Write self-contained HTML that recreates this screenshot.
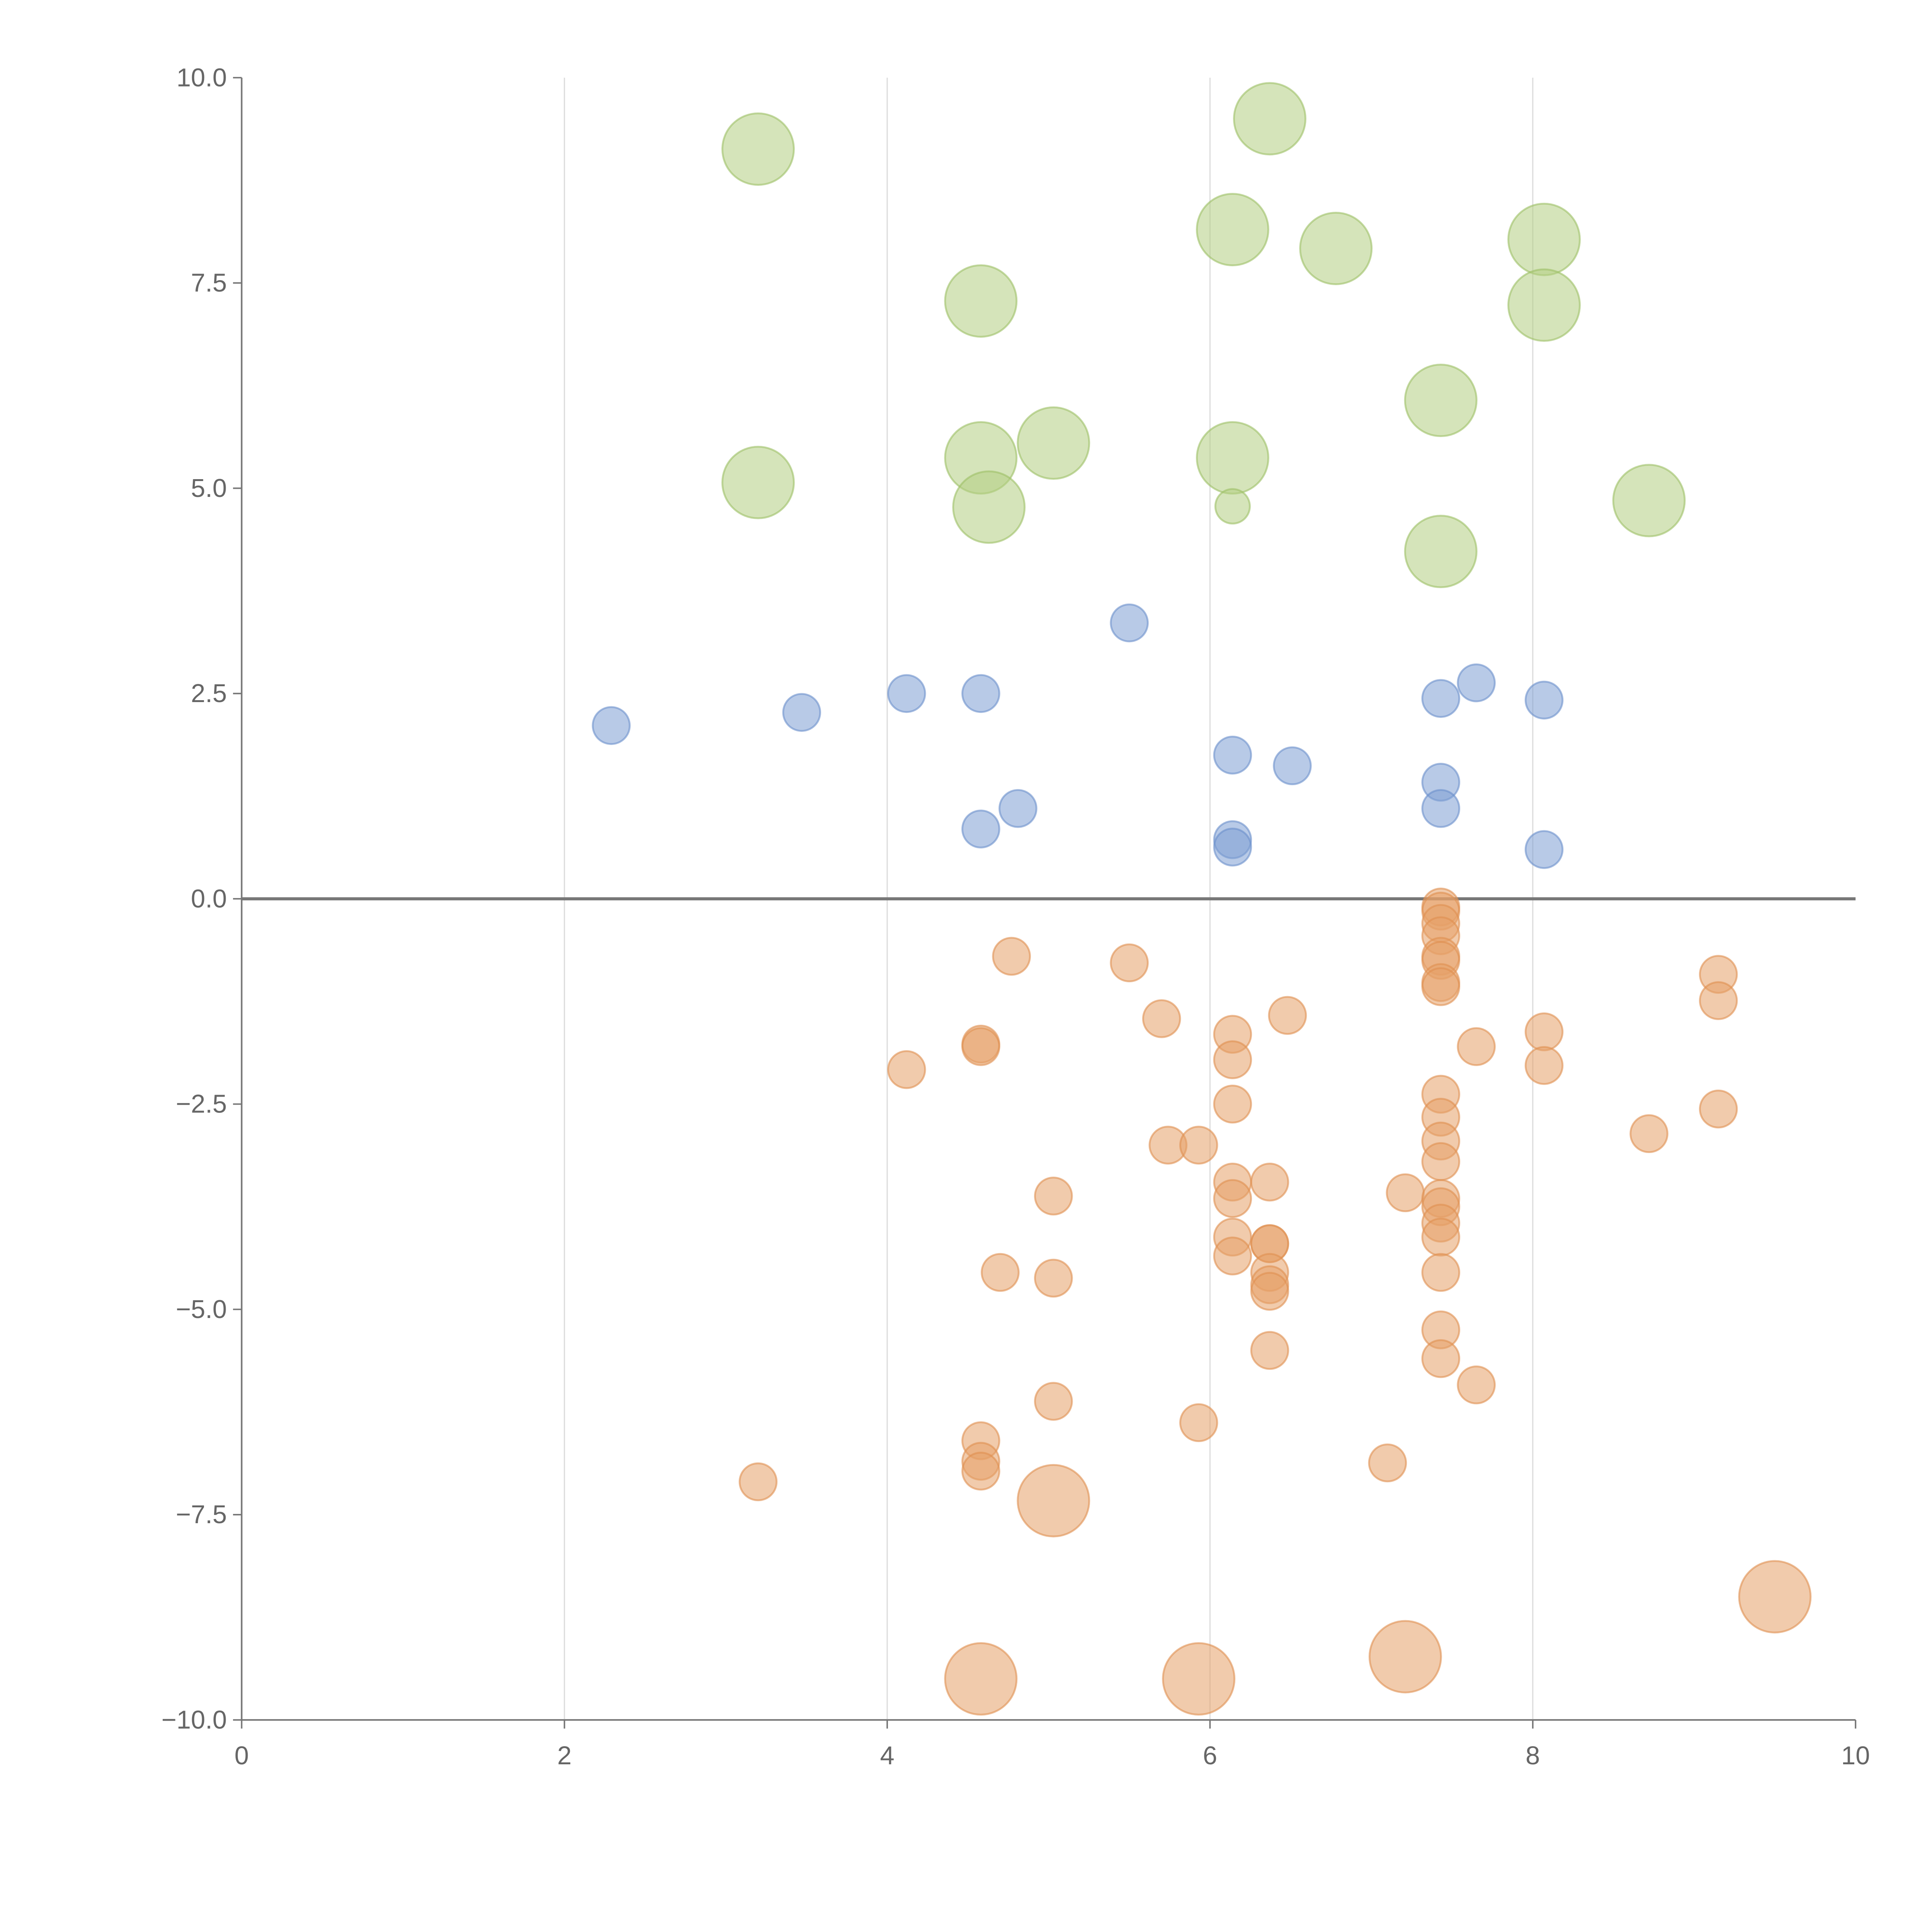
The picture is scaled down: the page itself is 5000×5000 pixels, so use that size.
<!DOCTYPE html>
<html><head><meta charset="utf-8"><style>html,body{margin:0;padding:0;background:#fff}svg{display:block}</style></head>
<body>
<svg id="chart" width="5000" height="5000" viewBox="0 0 1567 1567" xmlns="http://www.w3.org/2000/svg" font-family="'Liberation Sans', sans-serif">
<g id="grid"></g>
<g id="axes"></g>
<g id="marks"></g>
</svg>
<script>
const xTicks = [0, 2, 4, 6, 8, 10];
const yTicks = [10, 7.5, 5, 2.5, 0, -2.5, -5, -7.5, -10];
const yTickLabels = ["10.0","7.5","5.0","2.5","0.0","\u22122.5","\u22125.0","\u22127.5","\u221210.0"];
const greenX = [3.2,6.37,6.14,6.78,8.07,4.58,8.07,7.43,3.2,4.58,5.03,6.14,4.63,6.14,8.72,7.43];
const greenY = [9.13,9.5,8.15,7.92,8.03,7.28,7.23,6.07,5.07,5.37,5.55,5.37,4.77,4.78,4.85,4.23];
const greenR = [29,29,29,29,29,29,29,29,29,29,29,29,29,14,29,29];
const blueX = [2.29,3.47,4.12,4.58,5.5,7.43,7.65,8.07,6.14,6.51,7.43,7.43,4.81,4.58,6.14,6.14,8.07];
const blueY = [2.11,2.27,2.5,2.5,3.36,2.44,2.63,2.42,1.75,1.62,1.42,1.1,1.1,0.85,0.72,0.63,0.6];
const orangeX = [5.03,4.58,5.93,7.21,9.5,4.77,5.5,7.43,7.43,7.43,7.43,7.43,7.43,7.43,7.43,9.15,9.15,5.7,6.48,4.58,4.58,4.12,6.14,6.14,7.65,8.07,8.07,6.14,7.43,7.43,7.43,7.43,8.72,9.15,5.74,5.93,6.14,6.14,6.37,7.21,7.43,7.43,7.43,7.43,5.03,6.14,6.14,6.37,6.37,6.37,6.37,6.37,7.43,4.7,5.03,7.43,7.43,6.37,7.65,5.03,5.93,4.58,4.58,4.58,7.1,3.2];
const orangeY = [-7.33,-9.5,-9.5,-9.23,-8.5,-0.7,-0.78,-0.1,-0.15,-0.3,-0.45,-0.7,-0.75,-1.02,-1.07,-0.92,-1.24,-1.46,-1.42,-1.77,-1.8,-2.08,-1.65,-1.96,-1.8,-1.62,-2.03,-2.5,-2.38,-2.66,-2.95,-3.2,-2.86,-2.56,-3.0,-3.0,-3.45,-3.65,-3.45,-3.58,-3.65,-3.75,-3.95,-4.12,-3.62,-4.12,-4.35,-4.2,-4.2,-4.55,-4.7,-4.78,-4.55,-4.55,-4.62,-5.25,-5.6,-5.5,-5.92,-6.12,-6.38,-6.6,-6.85,-6.97,-6.87,-7.1];
const orangeBig = [29,29,29,29,29];

const NS="http://www.w3.org/2000/svg";
const X0=196,X1=1505,Y0=1395,Y1=63;
function sx(v){return X0+(v-0)/(10-0)*(X1-X0);}
function sy(v){return Y0-(v+10)/20*(Y0-Y1);}
function mk(tag,attrs,parent){const e=document.createElementNS(NS,tag);for(const k in attrs)e.setAttribute(k,attrs[k]);parent.appendChild(e);return e;}
const grid=document.getElementById('grid'),axes=document.getElementById('axes'),marks=document.getElementById('marks');

xTicks.forEach(t=>{
  if(t>0&&t<10){const g=mk('line',{x1:sx(t),x2:sx(t),y1:Y1,y2:Y0,stroke:'#dddddd','stroke-width':1},grid);
  
  }
  const tk=mk('line',{x1:sx(t),x2:sx(t),y1:Y0,y2:Y0+7,stroke:'#777','stroke-width':1.2},axes);
  
  
  const tx=mk('text',{x:sx(t),y:Y0+36,'text-anchor':'middle','font-size':21,fill:'#666'},axes);
  tx.textContent=t;
  
  
});
yTicks.forEach((t,i)=>{
  const tk=mk('line',{x1:X0-7,x2:X0,y1:sy(t),y2:sy(t),stroke:'#777','stroke-width':1.2},axes);
  
  
  const tx=mk('text',{x:X0-12,y:sy(t)+7,'text-anchor':'end','font-size':21,fill:'#666'},axes);
  tx.textContent=yTickLabels[i];
  
  
});
const ya=mk('line',{x1:X0,x2:X0,y1:Y1,y2:Y0,stroke:'#777','stroke-width':1.3},axes);


const xa=mk('line',{x1:X0,x2:X1,y1:Y0,y2:Y0,stroke:'#777','stroke-width':1.3},axes);



function series(xs,ys,rf,fill,stroke,name){
  xs.forEach((x,i)=>{
    const c=mk('circle',{cx:sx(x),cy:sy(ys[i]),r:rf(i),fill:fill,'fill-opacity':0.55,stroke:stroke,'stroke-opacity':0.6,'stroke-width':1.5},marks);
    
    
  });
}
series(greenX,greenY,i=>greenR[i],'#b3ce82','#9cbf66','bubble-green');
series(blueX,blueY,i=>15,'#7d9fd4','#6a8fcb','bubble-blue');
series(orangeX,orangeY,i=>i<orangeBig.length?orangeBig[i]:15,'#e6a067','#e09050','bubble-orange');

const z=mk('line',{x1:X0,x2:X1,y1:sy(0),y2:sy(0),stroke:'#777','stroke-width':2.5},axes);


</script>
</body></html>
